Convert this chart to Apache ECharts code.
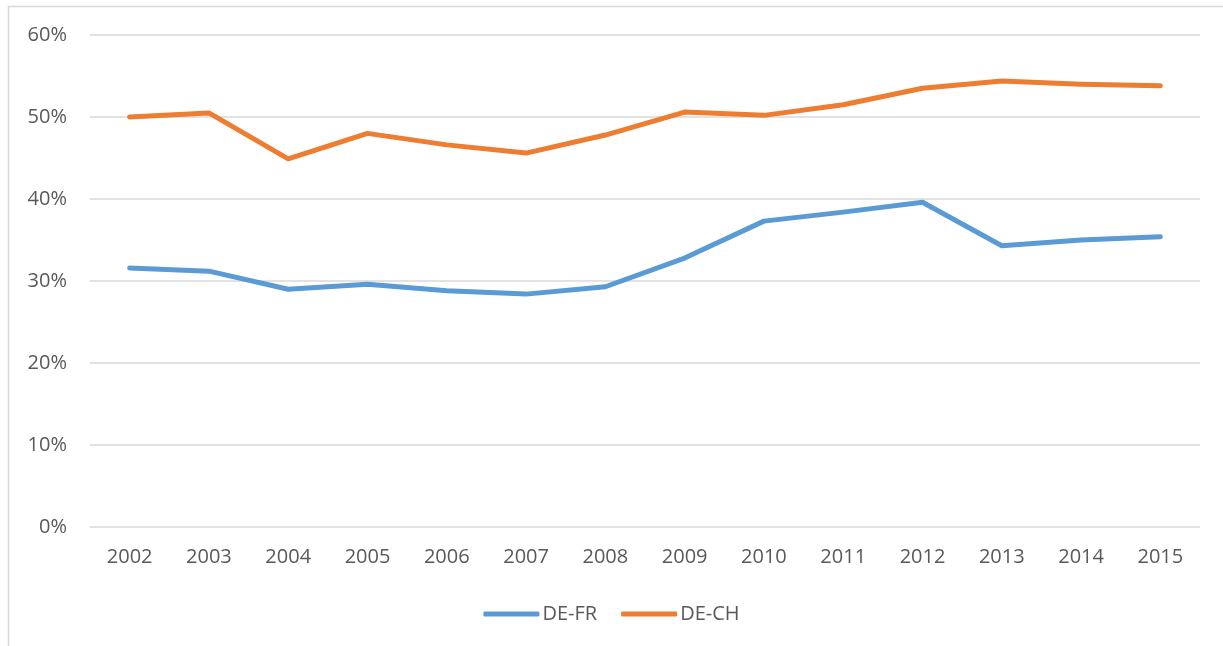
<!DOCTYPE html>
<html>
<head>
<meta charset="utf-8">
<script src="https://cdn.jsdelivr.net/npm/echarts@6/dist/echarts.min.js"></script>
<style>
  html, body { margin: 0; padding: 0; background: #fff; }
  #chart { width: 1223px; height: 646px; }
</style>
</head>
<body>
<div id="chart"></div>
<script>
const years = ['2002', '2003', '2004', '2005', '2006', '2007', '2008',
  '2009', '2010', '2011', '2012', '2013', '2014', '2015'];
const deFr = [31.6, 31.2, 29.0, 29.6, 28.8, 28.4, 29.3, 32.8, 37.3, 38.4, 39.6, 34.3, 35.0, 35.4];
const deCh = [50.0, 50.5, 44.9, 48.0, 46.6, 45.6, 47.8, 50.6, 50.2, 51.5, 53.5, 54.4, 54.0, 53.8];

const font = 'Open Sans';
const chart = echarts.init(document.getElementById('chart'));

chart.setOption({
  animation: false,
  textStyle: {fontFamily: font},
  graphic: [{
    type: 'rect',
    shape: {x: 8.5, y: 6.5, width: 1400, height: 800},
    style: {fill: 'none', stroke: '#d9d9d9', lineWidth: 1.5},
    silent: true
  }],
  grid: {left: 90, right: 23, top: 35, bottom: 119},
  legend: {
    top: 599,
    left: 'center',
    itemWidth: 56,
    itemHeight: 5,
    itemGap: 24,
    icon: 'roundRect',
    textStyle: {color: '#595959', fontSize: 20, fontFamily: font, padding: [0, 0, 0, -2]},
    data: ['DE-FR', 'DE-CH']
  },
  xAxis: {
    type: 'category',
    data: years,
    boundaryGap: true,
    axisLine: {show: false},
    axisTick: {show: false},
    axisLabel: {color: '#595959', fontSize: 20, margin: 20}
  },
  yAxis: {
    type: 'value',
    min: 0,
    max: 60,
    interval: 10,
    axisLine: {show: false},
    axisTick: {show: false},
    axisLabel: {color: '#595959', fontSize: 20, margin: 23, formatter: '{value}%'},
    splitLine: {lineStyle: {color: '#d9d9d9', width: 1.5}}
  },
  series: [
    {
      name: 'DE-FR',
      type: 'line',
      data: deFr,
      symbol: 'none',
      lineStyle: {color: '#5b9bd5', width: 5, cap: 'round', join: 'round'},
      itemStyle: {color: '#5b9bd5'}
    },
    {
      name: 'DE-CH',
      type: 'line',
      data: deCh,
      symbol: 'none',
      lineStyle: {color: '#ed7d31', width: 5, cap: 'round', join: 'round'},
      itemStyle: {color: '#ed7d31'}
    }
  ]
});
</script>
</body>
</html>
